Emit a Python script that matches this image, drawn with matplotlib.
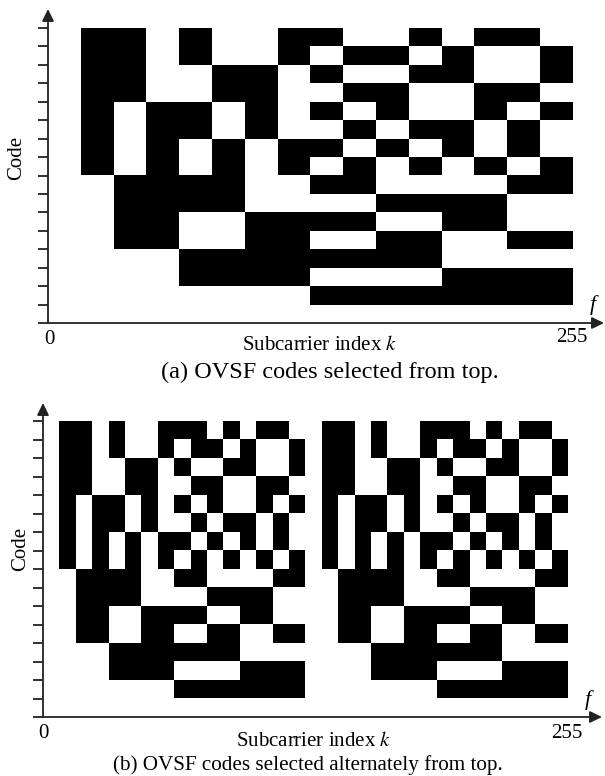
import numpy as np
import matplotlib
matplotlib.use("Agg")
import matplotlib.pyplot as plt

plt.rcParams['font.family'] = ['Liberation Serif', 'DejaVu Serif']
plt.rcParams['mathtext.fontset'] = 'stix'

# chip signs, top row first ('+' white, '-' black)
codes_top = [
    "+--+-++--++-+--+",
    "+--+-++-+--+-++-",
    "+--++--+-++--++-",
    "+--++--++--++--+",
    "+-+--+-+-+-++-+-",
    "+-+--+-++-+--+-+",
    "+-+-+-+--+-+-+-+",
    "+-+-+-+-+-+-+-+-",
    "++----++--++++--",
    "++----++++----++",
    "++--++----++--++",
    "++--++--++--++--",
    "++++--------++++",
    "++++----++++----",
    "++++++++--------",
    "++++++++++++++++",
]

codes_alt = [
    "+--+-++---+-+--++--+-++---+-+--+",
    "+--+-++-+--+-++-+--+-++-+--+-++-",
    "+--++--+-++--++-+--++--+-++--++-",
    "+--++--++--++--++--++--++--++--+",
    "+-+--+-+-+-++-+-+-+--+-+-+-++-+-",
    "+-+--+-++-+--+-++-+--+-++-+--+-+",
    "+-+-+-+--+-+-+-++-+-+-+--+-+-+-+",
    "+-+-+-+-+-+-+-+-+-+-+-+-+-+-+-+-",
    "++----++--++++--++----++--++++--",
    "++----++++----++++----++++----++",
    "++--++----++--++++--++----++--++",
    "++--++--++--++--++--++--++--++--",
    "++++--------++++++++--------++++",
    "++++----++++----++++----++++----",
    "++++++++--------++++++++--------",
    "++++++++++++++++++++++++++++++++",
]

captions = ["(a) OVSF codes selected from top.",
            "(b) OVSF codes selected alternately from top."]

W, H = 605, 776


def to_matrix(rows):
    return np.array([[1 if ch == '+' else -1 for ch in r] for r in rows])


def px(x, y):
    return x / W, 1 - y / H


fig = plt.figure(figsize=(W / 100, H / 100), dpi=100)

# pixel layout of each panel: left, top, right, bottom of the code grid
panels = [
    dict(codes=codes_top, box=(48, 28, 573, 323), tip=(604, 9),
         zero=(49, 339), end=(572, 337), f=(593, 305), xlab=(320, 346),
         cap=(330, 372), capsize=17.5, code=(17, 158)),
    dict(codes=codes_alt, box=(43, 421, 568, 717), tip=(602, 403),
         zero=(43, 733), end=(567, 733), f=(588, 700), xlab=(314, 742),
         cap=(308, 765), capsize=15.2, code=(21, 549)),
]

for p, cap in zip(panels, captions):
    l, t, r, b = p['box']
    m = to_matrix(p['codes'])
    nrow, ncol = m.shape
    ax = fig.add_axes([l / W, 1 - b / H, (r - l) / W, (b - t) / H])
    ax.imshow(m, cmap='gray', vmin=-1, vmax=1, interpolation='nearest',
              aspect='auto', extent=(0, ncol, 0, nrow), origin='upper')
    ax.set_xlim(0, ncol)
    ax.set_ylim(0, nrow)
    for s in ax.spines.values():
        s.set_visible(False)
    ax.set_xticks([])
    ax.set_yticks(np.arange(nrow + 1))
    ax.tick_params(axis='y', direction='out', length=7, width=1.3,
                   color='#222222', labelleft=False)

    ytip = 1 + (t - p['tip'][1]) / (b - t)
    xtip = (p['tip'][0] - l) / (r - l)
    arrow = dict(arrowstyle='-|>,head_length=0.45,head_width=0.22',
                 color='#222222', lw=1.3, mutation_scale=16,
                 shrinkA=0, shrinkB=0)
    ax.annotate('', xy=(0, ytip), xytext=(0, 0), xycoords='axes fraction',
                arrowprops=arrow, annotation_clip=False)
    ax.annotate('', xy=(xtip, 0), xytext=(0, 0), xycoords='axes fraction',
                arrowprops=arrow, annotation_clip=False)

    fig.text(*px(*p['zero']), '0', ha='center', va='center', fontsize=15)
    fig.text(*px(*p['end']), '255', ha='center', va='center', fontsize=15)
    fig.text(*px(*p['f']), 'f', ha='center', va='center', fontsize=16,
             fontstyle='italic')
    fig.text(*px(*p['xlab']), 'Subcarrier index $k$', ha='center',
             va='center', fontsize=15)
    fig.text(*px(*p['cap']), cap, ha='center', va='center',
             fontsize=p['capsize'])
    fig.text(*px(*p['code']), 'Code', ha='center', va='center',
             fontsize=15, rotation=90)

fig.savefig('out.png', dpi=100)
